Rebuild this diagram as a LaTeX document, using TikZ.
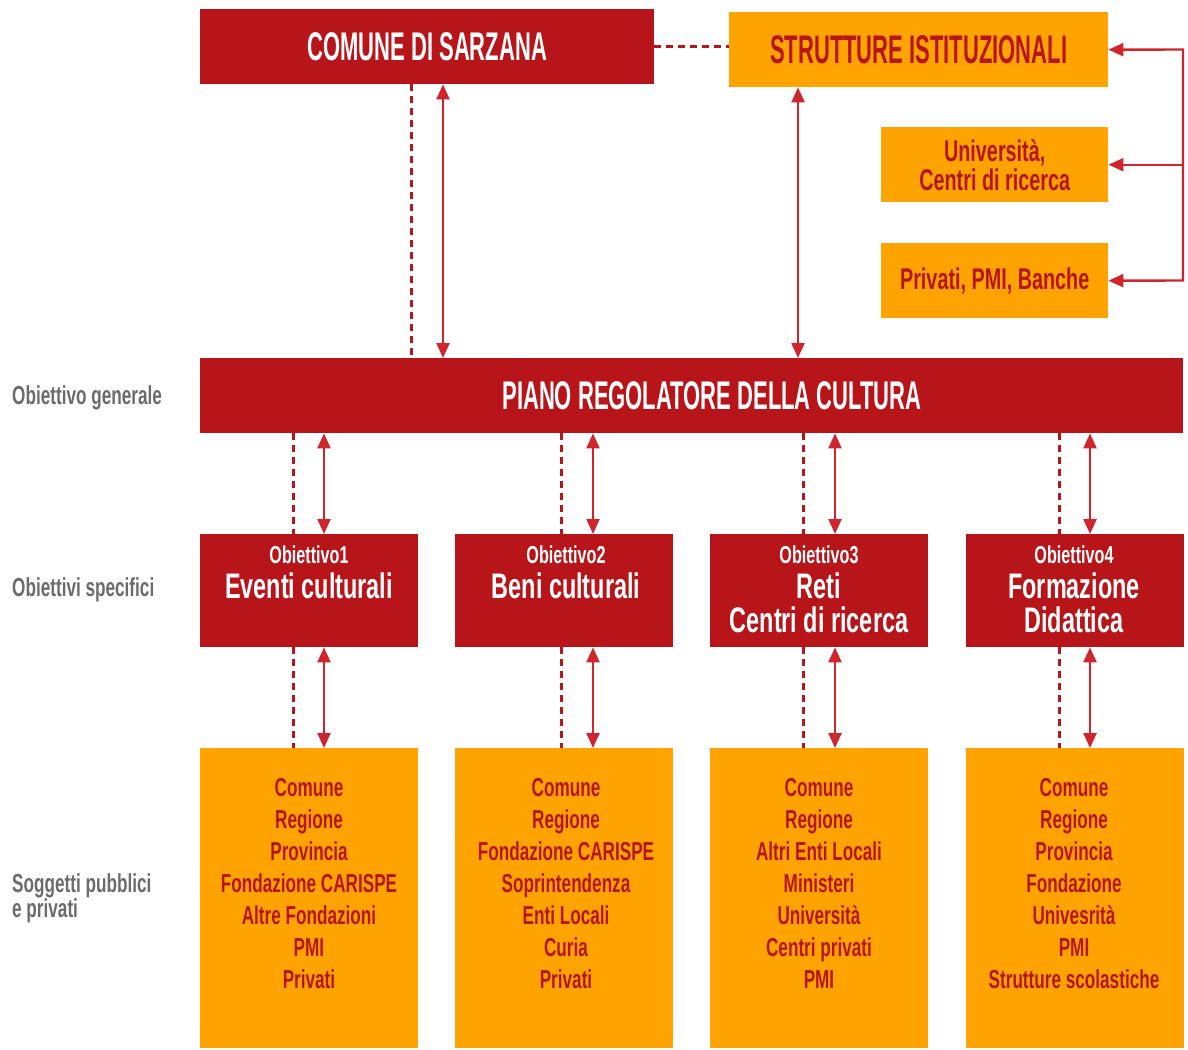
\documentclass[tikz,border=0pt]{standalone}
\usepackage{fontspec}
\newfontfamily\capfont{Liberation Sans}[FakeStretch=0.55]
\newfontfamily\txtfont{Liberation Sans}[FakeStretch=0.66]
\usetikzlibrary{arrows.meta}
\definecolor{dred}{RGB}{184,21,26}
\definecolor{ared}{RGB}{208,37,44}
\definecolor{orng}{RGB}{255,163,0}
\definecolor{lgray}{RGB}{107,107,107}
\tikzset{
  box/.style={draw=none, inner sep=0pt, anchor=north west, align=center},
  redbox/.style={box, fill=dred, text=white},
  orbox/.style={box, fill=orng, text=dred},
  captext/.style={font=\capfont\bfseries\fontsize{40}{42}\selectfont},
  sidelabel/.style={text=lgray, inner sep=0pt, align=left, font=\txtfont\bfseries\fontsize{26}{23}\selectfont},
  smalltxt/.style={text=white, inner sep=0pt, anchor=base, font=\txtfont\bfseries\fontsize{24.5}{26}\selectfont},
  bigtxt/.style={text=white, inner sep=0pt, anchor=north, align=center, font=\txtfont\bfseries\fontsize{35.5}{34}\selectfont},
  listtxt/.style={text=dred, inner sep=0pt, anchor=north, align=center, font=\txtfont\bfseries\fontsize{26}{32}\selectfont},
  biarrow/.style={draw=ared, line width=2.4pt, {Triangle[width=13pt,length=15pt]}-{Triangle[width=13pt,length=15pt]}},
  toarrow/.style={draw=ared, line width=2.4pt, -{Triangle[width=13pt,length=15pt]}},
  dashline/.style={draw=dred, line width=3pt, dash pattern=on 7pt off 5pt},
}
\begin{document}
\begin{tikzpicture}[x=1pt,y=-1pt]
\useasboundingbox (0,0) rectangle (1188,1049);

% top row
\node[redbox, captext, minimum width=454pt, minimum height=75pt] (comune) at (200,9) {COMUNE DI SARZANA};
\node[orbox, captext, minimum width=379pt, minimum height=75pt] (strut) at (729,12) {STRUTTURE ISTITUZIONALI};
\node[orbox, font=\txtfont\bfseries\fontsize{30}{29}\selectfont, minimum width=227pt, minimum height=75pt] (univ) at (881,127) {Università,\\Centri di ricerca};
\node[orbox, font=\txtfont\bfseries\fontsize{30}{29}\selectfont, minimum width=227pt, minimum height=75pt] (priv) at (881,243) {Privati, PMI, Banche};

% piano
\node[redbox, minimum width=983pt, minimum height=75pt] (piano) at (200,358) {};
\node[captext, text=white, inner sep=0pt] (pianot) at (712,395.5) {PIANO REGOLATORE DELLA CULTURA};

% side labels
\node[sidelabel, anchor=west] (lgen) at (12,398) {Obiettivo generale};
\node[sidelabel, anchor=west] (lspec) at (12,590) {Obiettivi specifici};
\node[sidelabel, anchor=north west] (lsogg) at (12,873) {Soggetti pubblici\\e privati};

% objective boxes
\node[redbox, minimum width=218pt, minimum height=113pt] (obj1) at (200,534) {};
\node[redbox, minimum width=218pt, minimum height=113pt] (obj2) at (455,534) {};
\node[redbox, minimum width=218pt, minimum height=113pt] (obj3) at (710,534) {};
\node[redbox, minimum width=218pt, minimum height=113pt] (obj4) at (966,534) {};

\node[smalltxt] (t1a) at (309,563) {Obiettivo1};
\node[bigtxt] (t1b) at (309,573) {Eventi culturali};
\node[smalltxt] (t2a) at (566,563) {Obiettivo2};
\node[bigtxt] (t2b) at (566,573) {Beni culturali};
\node[smalltxt] (t3a) at (819,563) {Obiettivo3};
\node[bigtxt] (t3b) at (819,573) {Reti\\Centri di ricerca};
\node[smalltxt] (t4a) at (1074,563) {Obiettivo4};
\node[bigtxt] (t4b) at (1074,573) {Formazione\\Didattica};

% bottom boxes
\node[orbox, minimum width=218pt, minimum height=300pt] (lst1) at (200,748) {};
\node[orbox, minimum width=218pt, minimum height=300pt] (lst2) at (455,748) {};
\node[orbox, minimum width=218pt, minimum height=300pt] (lst3) at (710,748) {};
\node[orbox, minimum width=218pt, minimum height=300pt] (lst4) at (966,748) {};

\node[listtxt] (s1) at (309,778) {Comune\\Regione\\Provincia\\Fondazione CARISPE\\Altre Fondazioni\\PMI\\Privati};
\node[listtxt] (s2) at (566,778) {Comune\\Regione\\Fondazione CARISPE\\Soprintendenza\\Enti Locali\\Curia\\Privati};
\node[listtxt] (s3) at (819,778) {Comune\\Regione\\Altri Enti Locali\\Ministeri\\Università\\Centri privati\\PMI};
\node[listtxt] (s4) at (1074,778) {Comune\\Regione\\Provincia\\Fondazione\\Univesrità\\PMI\\Strutture scolastiche};

% top connectors
\draw[dashline] (comune.east) -- (strut.west |- comune.east);
\coordinate (cd) at (411,0);
\coordinate (ca) at (443,0);
\coordinate (sa) at (798,0);
\draw[dashline] (comune.south -| cd) -- (piano.north -| cd);
\draw[biarrow] (comune.south -| ca) -- (piano.north -| ca);
\draw[biarrow] (strut.south -| sa) -- (piano.north -| sa);

% right bracket
\coordinate (brT) at (1183,49.5);
\coordinate (brB) at (1183,280.5);
\draw[biarrow, line join=miter] (strut.east) -- (brT) -- (brB) -- (priv.east);
\draw[toarrow] (brT |- univ.east) -- (univ.east);

% objective connectors
\foreach \i/\dx/\ax in {1/293/324, 2/561/593, 3/803/835, 4/1059/1090} {
  \coordinate (d\i) at (\dx,0);
  \coordinate (a\i) at (\ax,0);
  \draw[dashline] (piano.south -| d\i) -- (obj\i.north -| d\i);
  \draw[biarrow] (piano.south -| a\i) -- (obj\i.north -| a\i);
  \draw[dashline] (obj\i.south -| d\i) -- (lst\i.north -| d\i);
  \draw[biarrow] (obj\i.south -| a\i) -- (lst\i.north -| a\i);
}
\end{tikzpicture}
\end{document}
